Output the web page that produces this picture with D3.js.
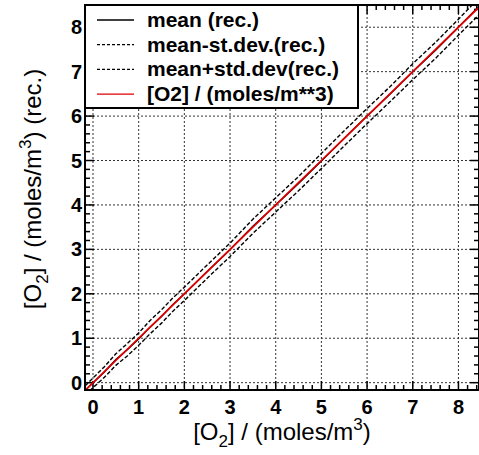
<!DOCTYPE html>
<html>
<head>
<meta charset="utf-8">
<script src="https://cdn.jsdelivr.net/npm/d3@7"></script>
<style>
  body { margin: 0; background: #fff; }
  svg { font-family: "Liberation Sans", Arial, sans-serif; }
</style>
</head>
<body>
<script>
// data
const xTicks = [0, 1, 2, 3, 4, 5, 6, 7, 8];
const yTicks = [0, 1, 2, 3, 4, 5, 6, 7, 8];
const obs = [-0.17, 0.25, 0.5, 0.75, 1.0, 1.25, 1.5, 1.75, 2.0, 2.5, 3.0, 3.5, 4.0, 4.5, 5.0, 5.5, 6.0, 6.5, 7.0, 7.5, 8.0, 8.45];
const meanRec = [-0.17, 0.24, 0.52, 0.74, 0.98, 1.25, 1.49, 1.76, 2.0, 2.5, 2.99, 3.52, 4.0, 4.48, 4.99, 5.5, 6.0, 6.49, 7.0, 7.48, 8.0, 8.47];
const stdRec = [0.1, 0.12, 0.13, 0.14, 0.14, 0.15, 0.15, 0.15, 0.15, 0.15, 0.15, 0.16, 0.16, 0.16, 0.17, 0.17, 0.17, 0.17, 0.18, 0.18, 0.18, 0.19];
const legendLabels = ["mean (rec.)", "mean-st.dev.(rec.)", "mean+std.dev(rec.)", "[O2] / (moles/m**3)"];

const W = 479, H = 455;
const mLeft = 85, mRight = 479, mTop = 5, mBottom = 390;

const svg = d3.select("body").append("svg")
  .attr("width", W)
  .attr("height", H);

const x = d3.scaleLinear().domain([-0.175, 8.45]).range([mLeft, mRight]);
const y = d3.scaleLinear().domain([-0.165, 8.5]).range([mBottom, mTop]);

const xMinor = d3.range(0, 8.41, 0.2).filter(v => Math.abs(v - Math.round(v)) > 0.01);
const yMinor = d3.range(0, 8.41, 0.2).filter(v => Math.abs(v - Math.round(v)) > 0.01);

// grid
svg.append("g").selectAll("line").data(xTicks).join("line")
  .attr("x1", d => x(d)).attr("x2", d => x(d))
  .attr("y1", mTop).attr("y2", mBottom)
  .attr("stroke", "#333").attr("stroke-width", 1).attr("stroke-dasharray", "2,2");
svg.append("g").selectAll("line").data(yTicks).join("line")
  .attr("y1", d => y(d)).attr("y2", d => y(d))
  .attr("x1", mLeft).attr("x2", mRight)
  .attr("stroke", "#333").attr("stroke-width", 1).attr("stroke-dasharray", "2,2");

// inward ticks on all four sides
function ticks(data, len, axis) {
  const g = svg.append("g").attr("stroke", "#000").attr("stroke-width", 1.5);
  if (axis === "x") {
    g.selectAll(".b").data(data).join("line").attr("class", "b")
      .attr("x1", d => x(d)).attr("x2", d => x(d))
      .attr("y1", mBottom).attr("y2", mBottom - len);
    g.selectAll(".t").data(data).join("line").attr("class", "t")
      .attr("x1", d => x(d)).attr("x2", d => x(d))
      .attr("y1", mTop).attr("y2", mTop + len);
  } else {
    g.selectAll(".l").data(data).join("line").attr("class", "l")
      .attr("y1", d => y(d)).attr("y2", d => y(d))
      .attr("x1", mLeft).attr("x2", mLeft + len);
    g.selectAll(".r").data(data).join("line").attr("class", "r")
      .attr("y1", d => y(d)).attr("y2", d => y(d))
      .attr("x1", mRight).attr("x2", mRight - len);
  }
}
ticks(xTicks, 9, "x");
ticks(xMinor, 5, "x");
ticks(yTicks, 9, "y");
ticks(yMinor, 5, "y");

// lines
svg.append("clipPath").attr("id", "plot")
  .append("rect").attr("x", mLeft).attr("y", mTop)
  .attr("width", mRight - mLeft).attr("height", mBottom - mTop);

const line = d3.line().x(d => x(d[0])).y(d => y(d[1]));
const lines = svg.append("g").attr("clip-path", "url(#plot)");

lines.append("path")
  .attr("d", line(obs.map((o, i) => [o, meanRec[i] - stdRec[i]])))
  .attr("fill", "none").attr("stroke", "#000").attr("stroke-width", 1.4).attr("stroke-dasharray", "4,2");
lines.append("path")
  .attr("d", line(obs.map((o, i) => [o, meanRec[i] + stdRec[i]])))
  .attr("fill", "none").attr("stroke", "#000").attr("stroke-width", 1.4).attr("stroke-dasharray", "4,2");
lines.append("path")
  .attr("d", line(obs.map((o, i) => [o, meanRec[i]])))
  .attr("fill", "none").attr("stroke", "#000").attr("stroke-width", 1.4);
lines.append("path")
  .attr("d", line(obs.map(o => [o, o])))
  .attr("fill", "none").attr("stroke", "#e00000").attr("stroke-width", 1.7);

// frame
svg.append("rect")
  .attr("x", mLeft).attr("y", mTop)
  .attr("width", mRight - mLeft).attr("height", mBottom - mTop)
  .attr("fill", "none").attr("stroke", "#000").attr("stroke-width", 2);

// tick labels
svg.append("g").selectAll("text").data(xTicks).join("text")
  .attr("x", d => x(d)).attr("y", 414)
  .attr("text-anchor", "middle")
  .attr("font-size", 20).attr("font-weight", "bold")
  .text(d => d);
svg.append("g").selectAll("text").data(yTicks).join("text")
  .attr("x", 82).attr("y", d => y(d) + 7)
  .attr("text-anchor", "end")
  .attr("font-size", 20).attr("font-weight", "bold")
  .text(d => d);

// axis titles
const xt = svg.append("text")
  .attr("x", 282).attr("y", 440)
  .attr("text-anchor", "middle")
  .attr("font-size", 24);
xt.append("tspan").text("[O");
xt.append("tspan").attr("font-size", 17).attr("dy", 7).text("2");
xt.append("tspan").attr("dy", -7).text("] / (moles/m");
xt.append("tspan").attr("font-size", 17).attr("dy", -10).text("3");
xt.append("tspan").attr("dy", 10).text(")");

const yt = svg.append("text")
  .attr("transform", "translate(41,189) rotate(-90)")
  .attr("text-anchor", "middle")
  .attr("font-size", 24);
yt.append("tspan").text("[O");
yt.append("tspan").attr("font-size", 17).attr("dy", 7).text("2");
yt.append("tspan").attr("dy", -7).text("] / (moles/m");
yt.append("tspan").attr("font-size", 17).attr("dy", -10).text("3");
yt.append("tspan").attr("dy", 10).text(") (rec.)");

// legend
const legend = svg.append("g");
legend.append("rect")
  .attr("x", mLeft).attr("y", mTop)
  .attr("width", 273).attr("height", 103)
  .attr("fill", "#fff").attr("stroke", "#000").attr("stroke-width", 2);
const legendStyle = [
  { color: "#000", dash: null },
  { color: "#000", dash: "3,2" },
  { color: "#000", dash: "3,2" },
  { color: "#e00000", dash: null }
];
legendLabels.forEach((lab, i) => {
  const yy = 20 + i * 24.7;
  legend.append("line")
    .attr("x1", 97).attr("x2", 134).attr("y1", yy).attr("y2", yy)
    .attr("stroke", legendStyle[i].color).attr("stroke-width", 1.3)
    .attr("stroke-dasharray", legendStyle[i].dash);
  legend.append("text")
    .attr("x", 147).attr("y", yy + 7)
    .attr("font-size", 21).attr("font-weight", "bold")
    .text(lab);
});
</script>
</body>
</html>
